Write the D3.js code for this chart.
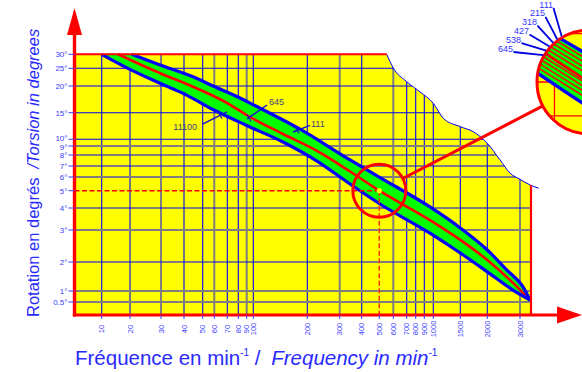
<!DOCTYPE html>
<html>
<head>
<meta charset="utf-8">
<script src="https://cdn.jsdelivr.net/npm/d3@7"></script>
<style>
  body { margin: 0; background: #fff; }
  svg { display: block; }
  text { font-family: "Liberation Sans", Arial, sans-serif; }
</style>
</head>
<body>
<svg id="chart" width="582" height="372"></svg>
<script>
// axis ticks
const freqTicks = [10, 20, 30, 40, 50, 60, 70, 80, 90, 100, 200, 300, 400, 500, 600, 700, 800, 900, 1000, 1500, 2000, 3000];
const degTicks = [0.5, 1, 2, 3, 4, 5, 6, 7, 8, 9, 10, 15, 20, 25, 30];
const greyFreq = [30, 60, 90, 300, 600, 3000];
const greyDeg = [0.5, 1, 3, 6, 9];

// band edges and centre (frequency min-1, torsion degrees)
const upperFreq = [20.5, 29.7, 44.8, 58.9, 82, 95, 186.5, 347, 505, 963, 1500, 2000, 2600, 3136, 3455];
const upperDeg = [30, 26.2, 22.6, 20, 17.75, 16.8, 11.9, 7.55, 5.96, 4.06, 3.09, 2.375, 1.72, 1.14, 0.59];
const centerFreq = [15.8, 29.7, 44.8, 70, 95, 155, 230, 347, 500, 963, 1500, 2000, 2786, 3455];
const centerDeg = [30, 23.6, 19.87, 16.8, 14.2, 11, 8.45, 6.5, 5, 3.45, 2.69, 2.06, 1.28, 0.59];
const lowerFreq = [10, 20, 29.7, 41.4, 59.7, 90, 155, 230, 360, 505, 963, 1500, 2000, 2786, 3455];
const lowerDeg = [30, 24.7, 20.76, 18.3, 15.5, 12.6, 9.6, 7.45, 5.34, 4.23, 2.9, 2.28, 1.66, 1.03, 0.59];

// limit of the chart (top right)
const boundaryFreq = [553, 600, 700, 850, 1000, 1185, 1500, 1740, 2000, 2390, 2700, 3000, 3455, 3850];
const boundaryDeg = [30, 25.1, 21.2, 18.9, 16.76, 13.95, 12.37, 11.43, 9.4, 7.55, 6.34, 5.83, 5.42, 5.18];
const maxFreq = 3500;
const maxFreqDeg = 5.4;

// example reading
const targetFreq = 500;
const targetDeg = 5;

// stripes seen in the magnifier
const stripeFreq = [340, 720];
const stripe215 = [7.42, 4.64];
const stripe318 = [7.21, 4.49];
const stripe427 = [7.0, 4.33];
const stripe538 = [6.79, 4.18];
const stripeLow1 = [6.35, 3.9];
const stripeLow2 = [6.14, 3.78];
const stripeLow3 = [5.93, 3.67];
const stripeLow4 = [5.75, 3.55];
const magLabels = ["111", "215", "318", "427", "538", "645"];

// callouts on the main band
const calloutText = ["11100", "645", "111"];
const calloutFreq = [64.4, 93.5, 181];
const calloutDeg = [14.57, 14.0, 11.75];

const svg = d3.select("#chart");
const blue = "#0000ff", red = "#ff0000", textBlue = "#2a2aff";

const x = d3.scaleLinear()
  .domain([10, 20, 30, 40, 50, 60, 70, 80, 90, 100, 200, 300, 400, 500, 600, 700, 800, 900, 1000, 1500, 2000, 3000, 3500, 4000])
  .range([101.7, 130, 161, 184, 202.7, 214.3, 227.3, 238.3, 246.7, 253.3, 307.3, 339.7, 361.7, 379.3, 393.3, 406.7, 415.7, 424.3, 433.3, 460.3, 487.3, 520, 531, 542]);
const y = d3.scaleLinear()
  .domain([0.5, 1, 2, 3, 4, 5, 6, 7, 8, 9, 10, 15, 20, 25, 30])
  .range([302, 291, 262, 230, 208, 190.7, 177, 166, 155, 146, 139.3, 112.7, 86, 68.3, 54.3]);

const left = 74.5, bottom = 315;

const line = d3.line().x(d => x(d[0])).y(d => y(d[1])).curve(d3.curveMonotoneX);
const upperPts = d3.zip(upperFreq, upperDeg);
const centerPts = d3.zip(centerFreq, centerDeg);
const lowerPts = d3.zip(lowerFreq, lowerDeg);
const boundaryPts = d3.zip(boundaryFreq, boundaryDeg);

const regionD = `M${left},${bottom}L${left},${y(30)}` + line(boundaryPts).replace(/^M/, "L") +
  `L${x(4000)},${bottom}Z`;
const bandD = line(upperPts) + line(lowerPts.slice().reverse()).replace(/^M/, "L") + "Z";

const defs = svg.append("defs");
defs.append("clipPath").attr("id", "rightClip")
  .append("rect").attr("x", 0).attr("y", 0).attr("width", x(maxFreq)).attr("height", 372);
defs.append("clipPath").attr("id", "regionClip")
  .append("path").attr("d", regionD);

const cx = x(targetFreq), cy = y(targetDeg);
const smallR = 26.5, bigR = 52, bigX = 589, bigY = 82;
defs.append("clipPath").attr("id", "magClip")
  .append("circle").attr("cx", bigX).attr("cy", bigY).attr("r", bigR);

// yellow plot area and grid
const plot = svg.append("g").attr("clip-path", "url(#rightClip)");
plot.append("path").attr("d", regionD).attr("fill", "#ffff00");

const grid = plot.append("g").attr("clip-path", "url(#regionClip)");
grid.selectAll("line.v").data(freqTicks.filter(f => f !== targetFreq)).join("line")
  .attr("x1", d => x(d)).attr("x2", d => x(d))
  .attr("y1", y(30)).attr("y2", bottom)
  .attr("stroke", d => greyFreq.includes(d) ? "#7f7f7f" : blue)
  .attr("stroke-width", d => greyFreq.includes(d) ? 2 : 1.1);
grid.selectAll("line.h").data(degTicks.filter(v => v !== 30 && v !== targetDeg)).join("line")
  .attr("x1", left).attr("x2", x(4000))
  .attr("y1", d => y(d)).attr("y2", d => y(d))
  .attr("stroke", d => greyDeg.includes(d) ? "#7f7f7f" : blue)
  .attr("stroke-width", d => greyDeg.includes(d) ? 2 : 1.1);

// limit curve
svg.append("path").attr("d", line(boundaryPts)).attr("fill", "none")
  .attr("stroke", blue).attr("stroke-width", 1);

// band
svg.append("path").attr("d", bandD).attr("fill", "#00ff00");
svg.append("path").attr("d", line(centerPts)).attr("fill", "none").attr("stroke", red).attr("stroke-width", 2.6);
[upperPts, lowerPts].forEach(p => svg.append("path").attr("d", line(p)).attr("fill", "none")
  .attr("stroke", blue).attr("stroke-width", 3.2).attr("stroke-linejoin", "round"));

// borders
svg.append("line").attr("x1", left).attr("x2", x(boundaryFreq[0])).attr("y1", y(30)).attr("y2", y(30))
  .attr("stroke", red).attr("stroke-width", 2);
svg.append("line").attr("x1", x(maxFreq)).attr("x2", x(maxFreq)).attr("y1", y(maxFreqDeg)).attr("y2", bottom)
  .attr("stroke", red).attr("stroke-width", 2.2);

// reading lines
svg.append("line").attr("x1", left).attr("x2", cx).attr("y1", cy).attr("y2", cy)
  .attr("stroke", red).attr("stroke-width", 1.5).attr("stroke-dasharray", "5,2.5");
svg.append("line").attr("x1", cx).attr("x2", cx).attr("y1", cy).attr("y2", bottom)
  .attr("stroke", "#ff3000").attr("stroke-width", 1.5).attr("stroke-dasharray", "5,2.5");
svg.append("circle").attr("cx", cx).attr("cy", cy).attr("r", 2.6).attr("fill", "#ffff00");

// axes
svg.append("line").attr("x1", left).attr("x2", left).attr("y1", 34).attr("y2", bottom + 1.6)
  .attr("stroke", red).attr("stroke-width", 3.4);
svg.append("line").attr("x1", left - 1.6).attr("x2", 558).attr("y1", bottom).attr("y2", bottom)
  .attr("stroke", red).attr("stroke-width", 3.2);
svg.append("path").attr("d", `M${left},8L${left + 7.5},35L${left - 7.5},35Z`).attr("fill", red);
svg.append("path").attr("d", `M582,${bottom}L557,${bottom - 8.5}L557,${bottom + 8.5}Z`).attr("fill", red);

// y ticks (10° and 9° sit very close, nudge them apart a little)
const nudge = { 10: -1.3, 9: 0.9 };
const yt = svg.append("g");
yt.selectAll("line").data(degTicks).join("line")
  .attr("x1", 68.5).attr("x2", left).attr("y1", d => y(d)).attr("y2", d => y(d))
  .attr("stroke", "#3a3aff").attr("stroke-width", 1);
yt.selectAll("text").data(degTicks).join("text")
  .attr("x", 67.5).attr("y", d => y(d) + (nudge[d] || 0)).attr("dy", "0.35em")
  .attr("text-anchor", "end").attr("font-size", 8).attr("fill", "#3a3aff")
  .text(d => d + "°");

// x ticks
const xt = svg.append("g");
xt.selectAll("line").data(freqTicks).join("line")
  .attr("x1", d => x(d)).attr("x2", d => x(d)).attr("y1", bottom).attr("y2", bottom + 4)
  .attr("stroke", "#3a3aff").attr("stroke-width", 1);
xt.selectAll("text").data(freqTicks).join("text")
  .attr("transform", d => `translate(${x(d)},329) rotate(-90)`)
  .attr("dy", "0.35em").attr("text-anchor", "middle")
  .attr("font-size", 7.5).attr("fill", "#3a3aff")
  .text(d => d);

// axis titles
const yTitle = svg.append("text").attr("transform", "translate(39,317) rotate(-90)")
  .attr("font-size", 16.5).attr("fill", textBlue);
yTitle.append("tspan").text("Rotation en degrés");
yTitle.append("tspan").attr("dx", 9).attr("font-style", "italic").text("/Torsion in degrees");

const xTitle = svg.append("text").attr("x", 75).attr("y", 365).attr("font-size", 20.5).attr("fill", textBlue);
xTitle.append("tspan").text("Fréquence en min");
xTitle.append("tspan").attr("font-size", 10).attr("dy", -9).text("-1");
xTitle.append("tspan").attr("dy", 9).text(" / ");
xTitle.append("tspan").attr("dx", 5).attr("font-style", "italic").text("Frequency in min");
xTitle.append("tspan").attr("font-size", 10).attr("dy", -9).text("-1");

// callouts
const cLead = [[-17, 9, 7, -3], [-2, 1, 18, -13], [-4, 2, 13, -4.7]];
const cText = [[-23, 15.3, "end"], [20, -13.5, "start"], [14, -3, "start"]];
calloutText.forEach((t, i) => {
  const px = x(calloutFreq[i]), py = y(calloutDeg[i]);
  const l = cLead[i];
  svg.append("line").attr("x1", px + l[0]).attr("y1", py + l[1]).attr("x2", px + l[2]).attr("y2", py + l[3])
    .attr("stroke", "#1010d0").attr("stroke-width", 1.4);
  svg.append("line").attr("x1", px - 2).attr("y1", py - 3.5).attr("x2", px + 2).attr("y2", py + 3.5)
    .attr("stroke", "#1010d0").attr("stroke-width", 1.2);
  svg.append("text").attr("x", px + cText[i][0]).attr("y", py + cText[i][1])
    .attr("text-anchor", cText[i][2]).attr("font-size", 9).attr("fill", "#3c3c8a").text(t);
});

// magnifier
const k = bigR / smallR;
const ux = (bigX - cx), uy = (bigY - cy), ul = Math.hypot(ux, uy);
svg.append("line")
  .attr("x1", cx + smallR * ux / ul).attr("y1", cy + smallR * uy / ul)
  .attr("x2", bigX - bigR * ux / ul).attr("y2", bigY - bigR * uy / ul)
  .attr("stroke", red).attr("stroke-width", 3);
svg.append("circle").attr("cx", cx).attr("cy", cy).attr("r", smallR)
  .attr("fill", "none").attr("stroke", red).attr("stroke-width", 3);

const mag = svg.append("g").attr("clip-path", "url(#magClip)")
  .append("g").attr("transform", `translate(${bigX},${bigY}) scale(${k}) translate(${-cx},${-cy})`);
mag.append("rect").attr("x", cx - 40).attr("y", cy - 40).attr("width", 80).attr("height", 80).attr("fill", "#ffff00");
const mg = mag.append("g");
mg.selectAll("line.v").data(freqTicks).join("line")
  .attr("x1", d => x(d)).attr("x2", d => x(d)).attr("y1", cy - 40).attr("y2", cy + 40)
  .attr("stroke", red).attr("stroke-width", 0.65);
mg.selectAll("line.h").data(degTicks).join("line")
  .attr("x1", cx - 40).attr("x2", cx + 40).attr("y1", d => y(d)).attr("y2", d => y(d))
  .attr("stroke", red).attr("stroke-width", 0.65);
mag.append("path").attr("d", bandD).attr("fill", "#00ff00");
[stripe215, stripe318, stripe427, stripe538, stripeLow1, stripeLow2, stripeLow3, stripeLow4].forEach(s =>
  mag.append("path").attr("d", d3.line().x(d => x(d[0])).y(d => y(d[1]))(d3.zip(stripeFreq, s)))
    .attr("fill", "none").attr("stroke", red).attr("stroke-width", 0.75));
mag.append("path").attr("d", line(centerPts)).attr("fill", "none").attr("stroke", red).attr("stroke-width", 1.4);
[upperPts, lowerPts].forEach(p => mag.append("path").attr("d", line(p)).attr("fill", "none")
  .attr("stroke", blue).attr("stroke-width", 1.7));
svg.append("circle").attr("cx", bigX).attr("cy", bigY).attr("r", bigR)
  .attr("fill", "none").attr("stroke", red).attr("stroke-width", 3);

// magnifier labels
magLabels.forEach((t, i) => {
  const ex = 553 - 8 * i, by = 7.5 + 8.8 * i;
  const a = (-121 - 5.7 * i) * Math.PI / 180;
  svg.append("line").attr("x1", ex + 0.5).attr("y1", by + 0.5)
    .attr("x2", bigX + 53 * Math.cos(a)).attr("y2", bigY + 53 * Math.sin(a))
    .attr("stroke", "#0000e0").attr("stroke-width", 1.8);
  svg.append("text").attr("x", ex).attr("y", by).attr("text-anchor", "end")
    .attr("font-size", 9).attr("fill", "#3333ff").text(t);
});
</script>
</body>
</html>
